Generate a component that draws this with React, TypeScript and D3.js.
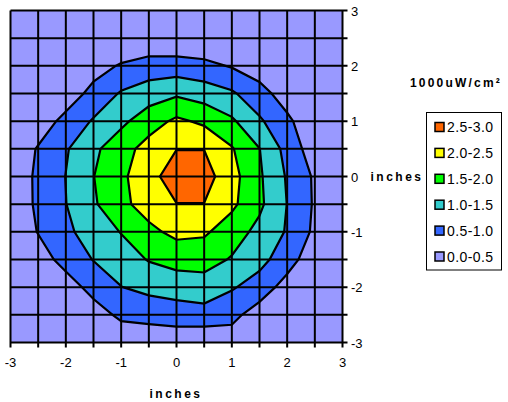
import React from 'react';
import * as d3 from 'd3';

// grid positions (inches) for both axes
const gridSteps = [-3, -2.5, -2, -1.5, -1, -0.5, 0, 0.5, 1, 1.5, 2, 2.5, 3];
const xTicks = [-3, -2, -1, 0, 1, 2, 3];
const yTicks = [-3, -2, -1, 0, 1, 2, 3];

const thresholds = [0.5, 1.0, 1.5, 2.0, 2.5];
const bandLabels = ['0.0-0.5', '0.5-1.0', '1.0-1.5', '1.5-2.0', '2.0-2.5', '2.5-3.0'];
const bandColors = ['#9999FF', '#3366FF', '#33CCCC', '#00FF00', '#FFFF00', '#FF6600'];

// irradiance, rows from y=3 (top) down to y=-3, columns x=-3 .. 3
const row0 = [0.02, 0.03, 0.03, 0.04, 0.05, 0.05, 0.05, 0.05, 0.05, 0.04, 0.03, 0.03, 0.02];
const row1 = [0.03, 0.04, 0.05, 0.06, 0.05, 0.12, 0.07, 0.05, 0.08, 0.06, 0.05, 0.04, 0.03];
const row2 = [0.04, 0.06, 0.15, 0.30, 0.55, 0.70, 0.72, 0.64, 0.46, 0.25, 0.15, 0.06, 0.04];
const row3 = [0.05, 0.10, 0.23, 0.65, 1.05, 1.27, 1.42, 1.27, 1.07, 0.68, 0.27, 0.10, 0.05];
const row4 = [0.08, 0.23, 0.645, 1.05, 1.39, 1.765, 2.10, 1.90, 1.58, 1.075, 0.60, 0.14, 0.06];
const row5 = [0.13, 0.54, 0.95, 1.40, 1.79, 2.20, 2.49, 2.49, 2.04, 1.51, 0.83, 0.22, 0.08];
const row6 = [0.17, 0.59, 1.01, 1.49, 1.90, 2.325, 2.76, 2.71, 2.18, 1.57, 0.95, 0.43, 0.10];
const row7 = [0.18, 0.58, 0.99, 1.435, 1.88, 2.21, 2.49, 2.49, 2.106, 1.60, 0.99, 0.44, 0.10];
const row8 = [0.14, 0.52, 0.90, 1.22, 1.52, 1.88, 2.13, 2.076, 1.73, 1.36, 0.956, 0.40, 0.08];
const row9 = [0.08, 0.29, 0.66, 1.02, 1.27, 1.53, 1.675, 1.686, 1.46, 1.155, 0.73, 0.17, 0.06];
const row10 = [0.05, 0.10, 0.29, 0.65, 0.99, 1.14, 1.23, 1.29, 1.05, 0.78, 0.29, 0.10, 0.05];
const row11 = [0.04, 0.06, 0.10, 0.30, 0.59, 0.67, 0.74, 0.80, 0.645, 0.25, 0.10, 0.06, 0.04];
const row12 = [0.03, 0.04, 0.06, 0.10, 0.20, 0.16, 0.18, 0.10, 0.24, 0.10, 0.06, 0.04, 0.03];
const intensity = [row0, row1, row2, row3, row4, row5, row6, row7, row8, row9, row10, row11, row12];

const W = 508;
const H = 402;
const plot = { left: 10.5, top: 10.5, right: 342.5, bottom: 342.5 };
const font = 'Arial, "Liberation Sans", sans-serif';

export default function App() {
  const x = d3.scaleLinear().domain([-3, 3]).range([plot.left, plot.right]);
  const y = d3.scaleLinear().domain([-3, 3]).range([plot.bottom, plot.top]);

  const n = gridSteps.length;
  const step = gridSteps[1] - gridSteps[0];
  const contours = d3.contours().size([n, n]).thresholds(thresholds)(intensity.flat());

  // contour coords: value (col i, row j) sits at (i + 0.5, j + 0.5)
  const proj = d3.geoTransform({
    point(px: number, py: number) {
      this.stream.point(x(gridSteps[0] + (px - 0.5) * step), y(gridSteps[n - 1] - (py - 0.5) * step));
    },
  });
  const path = d3.geoPath(proj);

  const legendItems = bandLabels.map((l, i) => ({ label: l, color: bandColors[i] })).reverse();

  return (
    <svg width={W} height={H} style={{ position: 'absolute', left: 0, top: 0, background: '#fff' }} fontFamily={font}>
      <defs>
        <clipPath id="plotClip">
          <rect x={plot.left} y={plot.top} width={plot.right - plot.left} height={plot.bottom - plot.top} />
        </clipPath>
      </defs>

      <g clipPath="url(#plotClip)">
        <rect x={plot.left} y={plot.top} width={plot.right - plot.left} height={plot.bottom - plot.top} fill={bandColors[0]} />
        {contours.map((c, i) => (
          <path key={i} d={path(c as any) || ''} fill={bandColors[i + 1]} stroke="#000" strokeWidth={2.2} strokeLinejoin="miter" />
        ))}
      </g>

      {/* grid */}
      <g stroke="#000" strokeWidth={2}>
        {gridSteps.map(v => (
          <line key={'v' + v} x1={x(v)} x2={x(v)} y1={plot.top} y2={plot.bottom + 5} />
        ))}
        {gridSteps.map(v => (
          <line key={'h' + v} x1={plot.left} x2={plot.right + 5} y1={y(v)} y2={y(v)} />
        ))}
      </g>

      {/* bottom axis labels */}
      <g fontSize={13} fill="#000" textAnchor="middle">
        {xTicks.map(t => (
          <text key={t} x={x(t)} y={367}>{t}</text>
        ))}
      </g>
      {/* right axis labels */}
      <g fontSize={13} fill="#000">
        {yTicks.map(t => (
          <text key={t} x={351} y={y(t) + 5}>{t}</text>
        ))}
      </g>

      <text x={397} y={181} fontSize={12} fontWeight="bold" letterSpacing={2.5} textAnchor="middle">inches</text>
      <text x={176} y={398} fontSize={12} fontWeight="bold" letterSpacing={2.5} textAnchor="middle">inches</text>
      <text x={456} y={87} fontSize={12} fontWeight="bold" letterSpacing={2.2} textAnchor="middle">1000uW/cm²</text>

      {/* legend */}
      <rect x={426.5} y={112.5} width={75} height={157.5} fill="#fff" stroke="#000" strokeWidth={1} />
      {legendItems.map((d, i) => {
        const cy = 127 + i * 25.9;
        return (
          <g key={d.label}>
            <rect x={435} y={cy - 4.5} width={9} height={9} fill={d.color} stroke="#000" strokeWidth={1.5} />
            <text x={447} y={cy + 5} fontSize={14} letterSpacing={0.4}>{d.label}</text>
          </g>
        );
      })}
    </svg>
  );
}
